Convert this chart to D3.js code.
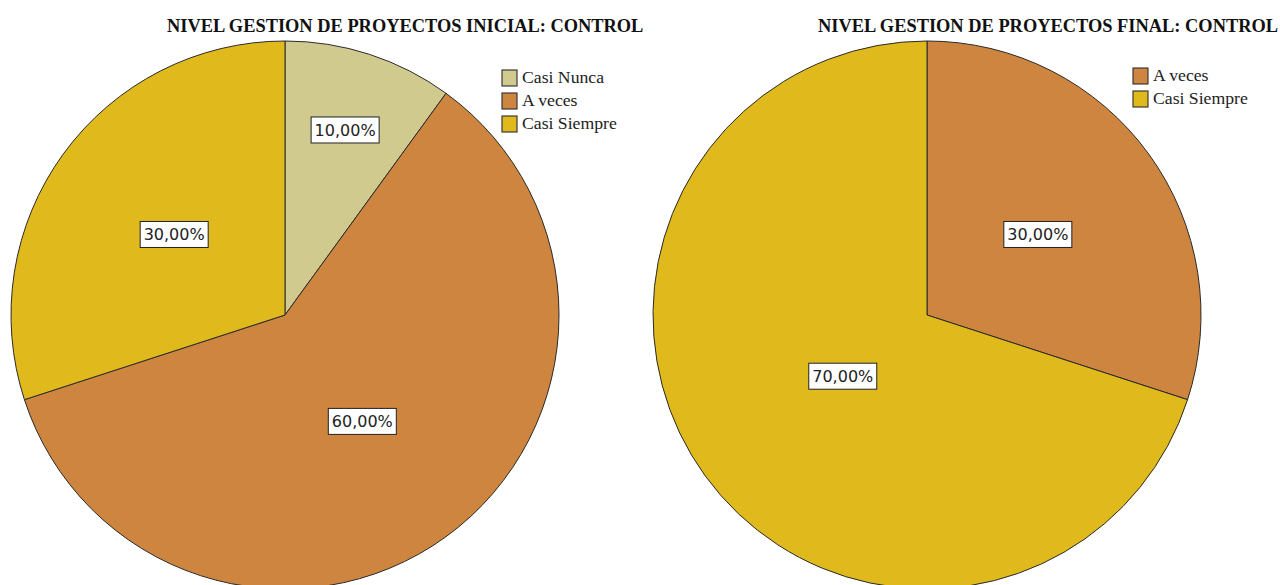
<!DOCTYPE html>
<html>
<head>
<meta charset="utf-8">
<script src="https://cdn.jsdelivr.net/npm/d3@7"></script>
<style>
  body { margin: 0; background: #fff; }
  svg { display: block; }
</style>
</head>
<body>
<div id="chart"></div>
<script>
// datos de los dos graficos
const categorias = ["Casi Nunca", "A veces", "Casi Siempre"];
const colores = ["#d0ca8f", "#cd853f", "#e0b91c"];

const inicialTitulo = "NIVEL GESTION DE PROYECTOS INICIAL: CONTROL";
const inicialCategorias = ["Casi Nunca", "A veces", "Casi Siempre"];
const inicialValores = [10, 60, 30];

const finalTitulo = "NIVEL GESTION DE PROYECTOS FINAL: CONTROL";
const finalCategorias = ["A veces", "Casi Siempre"];
const finalValores = [30, 70];

const W = 1280, H = 585;
const svg = d3.select("#chart").append("svg")
    .attr("width", W)
    .attr("height", H);

const color = d3.scaleOrdinal().domain(categorias).range(colores);

// las etiquetas de porciones chicas van mas afuera, las grandes mas adentro
const labelPos = d3.scaleLinear().domain([0.1, 0.3, 0.6, 0.7]).range([0.71, 0.5, 0.48, 0.38]).clamp(true);

function drawPie(opts) {
    const { titulo, cats, vals, cx, cy, r, tituloX, legendX, legendY } = opts;
    const data = cats.map((c, i) => ({ cat: c, val: vals[i] }));
    const total = d3.sum(vals);

    svg.append("text")
       .attr("x", tituloX)
       .attr("y", 32)
       .attr("font-family", "Liberation Serif, serif")
       .attr("font-weight", "bold")
       .attr("font-size", 18.4)
       .attr("fill", "#111")
       .text(titulo);

    const pie = d3.pie().sort(null).value(d => d.val);
    const arc = d3.arc().innerRadius(0).outerRadius(r);

    const g = svg.append("g").attr("transform", `translate(${cx},${cy})`);
    const arcs = pie(data);

    g.selectAll("path")
     .data(arcs)
     .enter().append("path")
     .attr("d", arc)
     .attr("fill", d => color(d.data.cat))
     .attr("stroke", "#2a2a2a")
     .attr("stroke-width", 1);

    const lab = g.selectAll("g.lab")
     .data(arcs)
     .enter().append("g")
     .attr("class", "lab")
     .attr("transform", d => {
         const lr = r * labelPos(d.data.val / total);
         const c = d3.arc().innerRadius(lr).outerRadius(lr).centroid(d);
         return `translate(${c})`;
     });

    lab.append("rect")
       .attr("x", -34)
       .attr("y", -13)
       .attr("width", 68)
       .attr("height", 26)
       .attr("fill", "#fff")
       .attr("stroke", "#222")
       .attr("stroke-width", 1);

    lab.append("text")
       .attr("text-anchor", "middle")
       .attr("dy", "0.36em")
       .attr("font-family", "DejaVu Sans, sans-serif")
       .attr("font-size", 16)
       .attr("fill", "#222")
       .text(d => d3.format(".2f")(d.data.val).replace(".", ",") + "%");

    const leg = svg.append("g").attr("transform", `translate(${legendX},${legendY})`);
    const item = leg.selectAll("g")
       .data(cats)
       .enter().append("g")
       .attr("transform", (d, i) => `translate(0,${i * 23})`);
    item.append("rect")
        .attr("width", 15)
        .attr("height", 16)
        .attr("fill", d => color(d))
        .attr("stroke", "#3a3a3a")
        .attr("stroke-width", 1.2);
    item.append("text")
        .attr("x", 20)
        .attr("y", 13)
        .attr("font-family", "Liberation Serif, serif")
        .attr("font-size", 17.7)
        .attr("fill", "#222")
        .text(d => d);
}

drawPie({ titulo: inicialTitulo, cats: inicialCategorias, vals: inicialValores,
          cx: 285, cy: 315, r: 274, tituloX: 167, legendX: 502, legendY: 70 });
drawPie({ titulo: finalTitulo, cats: finalCategorias, vals: finalValores,
          cx: 927, cy: 315, r: 274, tituloX: 818, legendX: 1133, legendY: 68 });
</script>
</body>
</html>
